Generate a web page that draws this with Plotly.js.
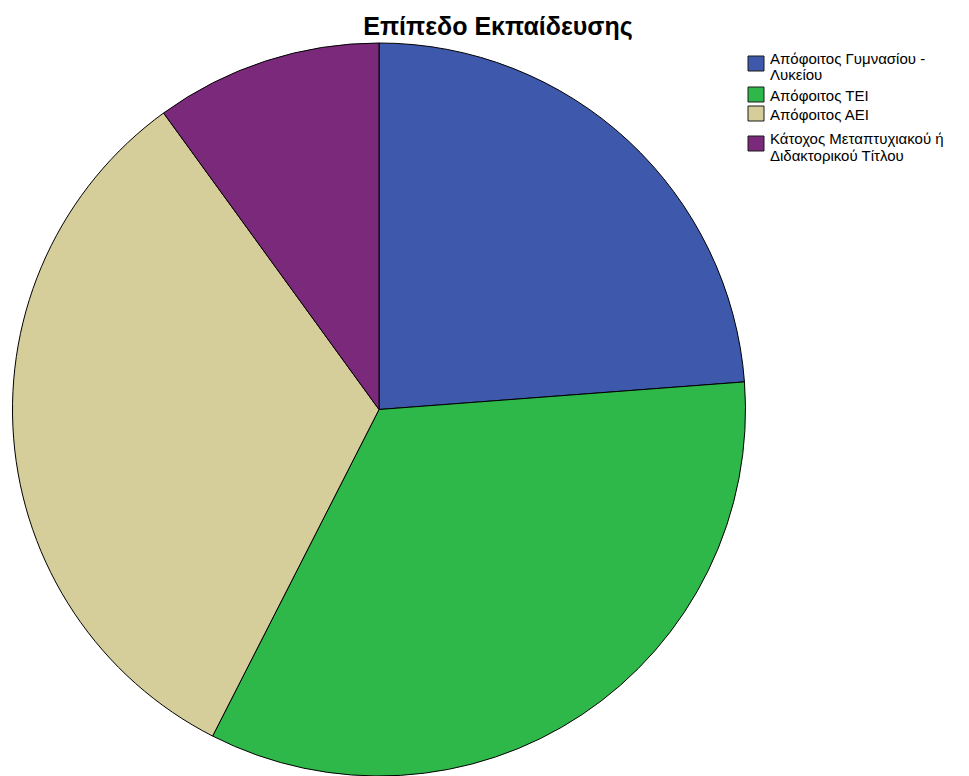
<!DOCTYPE html>
<html>
<head>
<meta charset="utf-8">
<script src="https://cdn.plot.ly/plotly-3.0.1.min.js"></script>
<style>html,body{margin:0;padding:0;background:#fff;}#chart{width:969px;height:776px;}</style>
</head>
<body>
<div id="chart"></div>
<script>
var categories = ["Απόφοιτος Γυμνασίου -<br>Λυκείου", "Απόφοιτος ΤΕΙ", "Απόφοιτος ΑΕΙ", "Κάτοχος Μεταπτυχιακού ή<br>Διδακτορικού Τίτλου"];
var values = [23.8, 33.7, 32.5, 10.0];
var colors = ["#3e58ac", "#2fb84a", "#d5ce9a", "#7b2a7b"];

var W = 969, H = 776;
var M = {l: 12, r: 223, t: 43, b: 0};
var pw = W - M.l - M.r, ph = H - M.t - M.b;
function px2x(px) { return (px - M.l) / pw; }
function py2y(py) { return (H - M.b - py) / ph; }

// legend layout (pixel positions)
var markerTops = [56, 87, 106, 136];
var lineCenters = [[58, 75], [95], [115], [138, 155]];
var shapes = [], annotations = [];
categories.forEach(function (c, i) {
  shapes.push({
    type: "rect", xref: "paper", yref: "paper",
    x0: px2x(748), x1: px2x(764), y0: py2y(markerTops[i]), y1: py2y(markerTops[i] + 15),
    fillcolor: colors[i], line: {color: "#1a1a1a", width: 1}
  });
  c.split("<br>").forEach(function (ln, j) {
    annotations.push({
      xref: "paper", yref: "paper", x: px2x(768), y: py2y(lineCenters[i][j]),
      xanchor: "left", yanchor: "middle", showarrow: false, text: ln,
      font: {size: 15, family: "Liberation Sans, Arial, sans-serif", color: "#000"}
    });
  });
});

var data = [{
  type: "pie",
  labels: categories,
  values: values,
  sort: false,
  direction: "clockwise",
  rotation: 0,
  textinfo: "none",
  hoverinfo: "label+percent",
  marker: {colors: colors, line: {color: "#000000", width: 1}}
}];

var layout = {
  width: W,
  height: H,
  margin: M,
  paper_bgcolor: "#ffffff",
  font: {family: "Liberation Sans, Arial, sans-serif", color: "#000000"},
  title: {
    text: "<b>Επίπεδο Εκπαίδευσης</b>",
    font: {size: 25, family: "Liberation Sans, Arial, sans-serif", color: "#000"},
    xref: "container", yref: "container",
    x: 498 / W, y: 0.966, xanchor: "center", yanchor: "middle"
  },
  showlegend: false,
  shapes: shapes,
  annotations: annotations
};

Plotly.newPlot("chart", data, layout, {displayModeBar: false});
</script>
</body>
</html>
